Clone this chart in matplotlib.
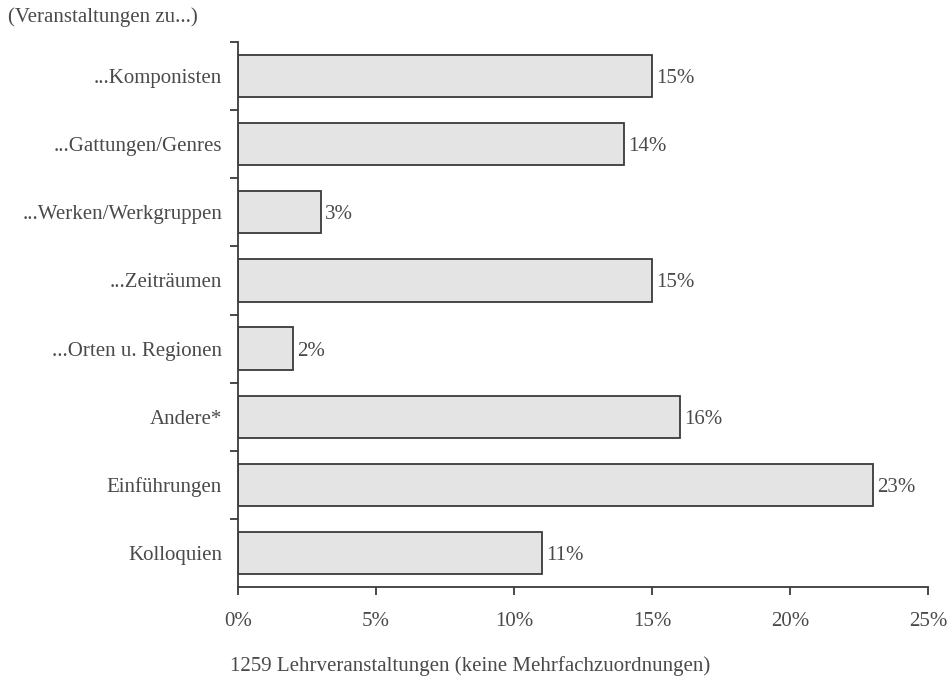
import numpy as np
import matplotlib.pyplot as plt
from matplotlib.ticker import FixedLocator, PercentFormatter

plt.rcParams['font.family'] = ['Liberation Serif', 'DejaVu Serif']

# Anteile der Lehrveranstaltungen (in %)
categories = ['...Komponisten', '...Gattungen/Genres', '...Werken/Werkgruppen',
              '...Zeiträumen', '...Orten u. Regionen', 'Andere*',
              'Einführungen', 'Kolloquien']
shares = [15, 14, 3, 15, 2, 16, 23, 11]
xticks = [0, 5, 10, 15, 20, 25]

text_col = '#4a4a4a'
line_col = '#3a3a3a'
fs = 15

fig = plt.figure(figsize=(9.47, 6.84), dpi=100)
ax = fig.add_axes([0.2513, 0.1418, 0.7287, 0.7968])

y = np.arange(len(categories))
ax.barh(y, shares, height=0.62, color='#e4e4e4', edgecolor=line_col, linewidth=1.3)

for yi, v in zip(y, shares):
    ax.text(v + 0.15, yi, f'{v}%', va='center_baseline', ha='left', fontsize=fs, color=text_col)

ax.set_ylim(len(categories) - 0.5, -0.5)
ax.set_xlim(0, 25)
ax.set_yticks(y)
ax.set_yticklabels(categories, fontsize=fs, color=text_col, va='center_baseline')
ax.yaxis.set_minor_locator(FixedLocator(np.arange(-0.5, len(categories) - 0.5, 1)))
ax.tick_params(axis='y', which='major', length=0, pad=11.5)
ax.tick_params(axis='y', which='minor', length=6, width=1.3, color=line_col, direction='out')

ax.set_xticks(xticks)
ax.xaxis.set_major_formatter(PercentFormatter(decimals=0))
ax.tick_params(axis='x', length=6, width=1.3, color=line_col, direction='out',
               labelsize=fs, labelcolor=text_col, pad=12)

for s in ['top', 'right']:
    ax.spines[s].set_visible(False)
for s in ['left', 'bottom']:
    ax.spines[s].set_color(line_col)
    ax.spines[s].set_linewidth(1.3)

fig.text(0.496, 1 - 666 / 684, '1259 Lehrveranstaltungen (keine Mehrfachzuordnungen)',
         fontsize=fs, color=text_col, ha='center', va='center')
fig.text(0.008, 0.99, '(Veranstaltungen zu...)', fontsize=fs, color=text_col,
         ha='left', va='top')

fig.savefig('out.png', dpi=100)
